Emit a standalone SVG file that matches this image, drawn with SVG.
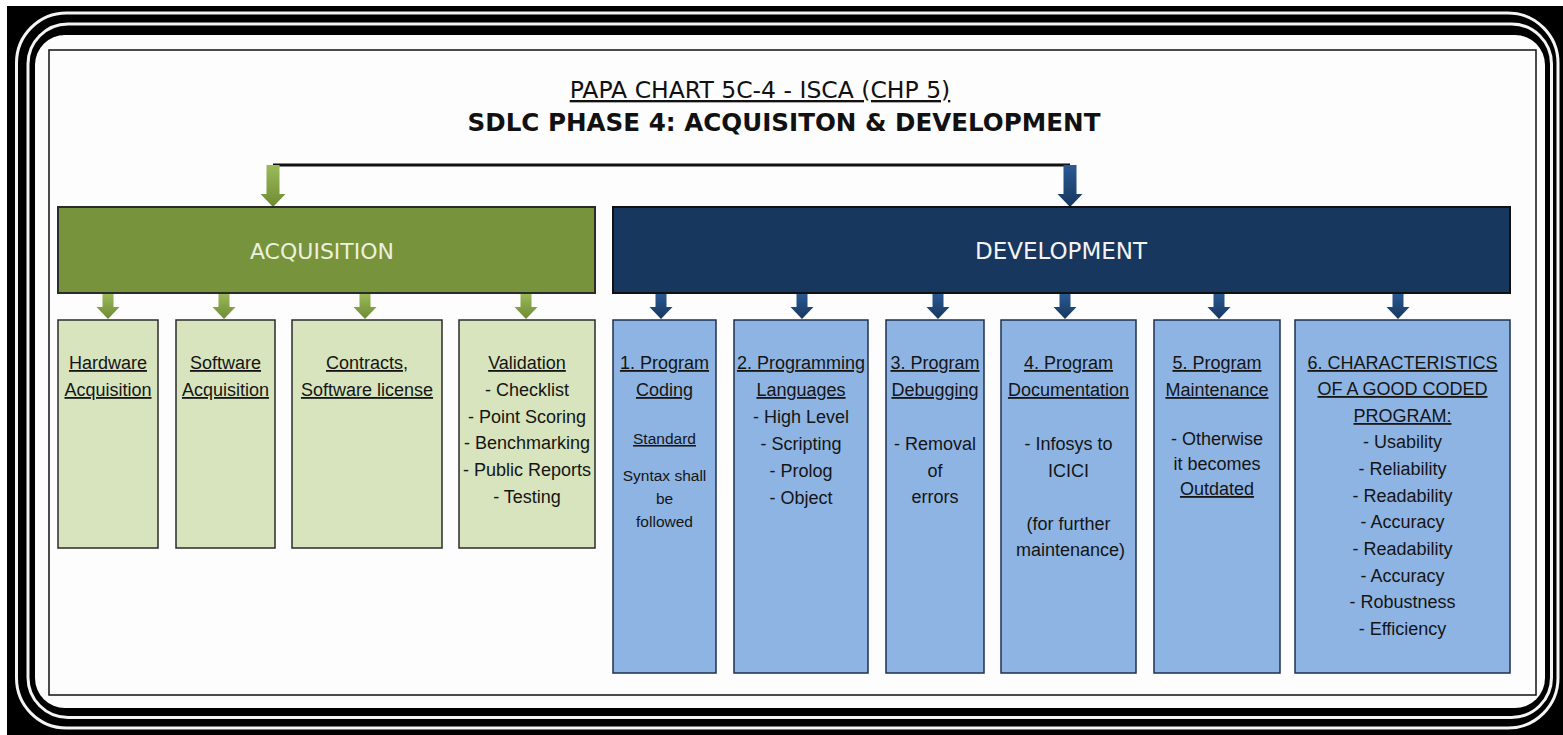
<svg xmlns="http://www.w3.org/2000/svg" xmlns:xlink="http://www.w3.org/1999/xlink" width="1563" height="735" viewBox="0 0 1563 735">
<style>
.t{font-family:"Liberation Sans",Arial,sans-serif;font-size:18px;fill:#151515;text-anchor:middle}
.u{text-decoration:underline}
.s{font-size:15.5px}
.h{font-family:"DejaVu Sans",sans-serif;text-anchor:middle;fill:#111}
.lg{fill:#D7E4BD;stroke:#2b2b2b;stroke-width:1.5}
.lb{fill:#8EB4E3;stroke:#1d3150;stroke-width:1.5}
</style>
<defs>
<linearGradient id="gg" x1="0" y1="0" x2="0" y2="1"><stop offset="0" stop-color="#9BBB59"/><stop offset="1" stop-color="#6E8B34"/></linearGradient>
<linearGradient id="bg" x1="0" y1="0" x2="0" y2="1"><stop offset="0" stop-color="#2A5A94"/><stop offset="1" stop-color="#17375E"/></linearGradient>
<path id="big" d="M-6.5,0 V29 H-12.5 L0,42 L12.5,29 H6.5 V0 Z"/>
<path id="sm" d="M-5.5,0 V14 H-11.5 L0,26 L11.5,14 H5.5 V0 Z"/>
</defs>
<rect width="1563" height="735" fill="#fff"/>
<g id="frame">
<rect x="7" y="6" width="1556" height="729" fill="#000"/>
<rect x="16.5" y="13" width="1541.5" height="715" rx="50" fill="none" stroke="#f4f4f4" stroke-width="3"/>
<rect x="28" y="24" width="1523.5" height="693.5" rx="40" fill="none" stroke="#f4f4f4" stroke-width="3"/>
<rect x="35" y="35" width="1510" height="673" rx="30" fill="#fdfdfd"/>
<rect x="49" y="50" width="1487" height="645" fill="none" stroke="#111" stroke-width="1.5"/>
</g>
<g id="title">
<text class="h u" x="760" y="98" font-size="23.5">PAPA CHART 5C-4 - ISCA (CHP 5)</text>
<text class="h" x="784" y="131" font-size="24.6" font-weight="bold">SDLC PHASE 4: ACQUISITON &amp; DEVELOPMENT</text>
</g>
<g id="connectors">
<path d="M273,165 H1070" stroke="#111" stroke-width="3" fill="none"/>
<use xlink:href="#big" x="273" y="165" fill="url(#gg)"/>
<use xlink:href="#big" x="1070" y="165" fill="url(#bg)"/>
<use xlink:href="#sm" x="108" y="293" fill="url(#gg)"/>
<use xlink:href="#sm" x="224" y="293" fill="url(#gg)"/>
<use xlink:href="#sm" x="365" y="293" fill="url(#gg)"/>
<use xlink:href="#sm" x="526" y="293" fill="url(#gg)"/>
<use xlink:href="#sm" x="661" y="293" fill="url(#bg)"/>
<use xlink:href="#sm" x="802" y="293" fill="url(#bg)"/>
<use xlink:href="#sm" x="938" y="293" fill="url(#bg)"/>
<use xlink:href="#sm" x="1065" y="293" fill="url(#bg)"/>
<use xlink:href="#sm" x="1219" y="293" fill="url(#bg)"/>
<use xlink:href="#sm" x="1398" y="293" fill="url(#bg)"/>
</g>
<g id="acquisition">
<rect x="58" y="207" width="537" height="86" fill="#77933C" stroke="#2b2b2b" stroke-width="2"/>
<text class="h" x="322" y="259" font-size="22" style="fill:#EBF1DE">ACQUISITION</text>
</g>
<g id="development">
<rect x="613" y="207" width="897" height="86" fill="#17375E" stroke="#111" stroke-width="2"/>
<text class="h" x="1061" y="259" font-size="23" style="fill:#F2F2F2">DEVELOPMENT</text>
</g>
<g id="hardware">
<rect class="lg" x="58" y="320" width="100" height="228"/>
<text class="t u" x="108" y="369">Hardware</text>
<text class="t u" x="108" y="396">Acquisition</text>
</g>
<g id="software">
<rect class="lg" x="176" y="320" width="99" height="228"/>
<text class="t u" x="225.5" y="369">Software</text>
<text class="t u" x="225.5" y="396">Acquisition</text>
</g>
<g id="contracts">
<rect class="lg" x="292" y="320" width="150" height="228"/>
<text class="t u" x="367" y="369">Contracts,</text>
<text class="t u" x="367" y="396">Software license</text>
</g>
<g id="validation">
<rect class="lg" x="459" y="320" width="136" height="228"/>
<text class="t u" x="527" y="369">Validation</text>
<text class="t" x="527" y="396">- Checklist</text>
<text class="t" x="527" y="423">- Point Scoring</text>
<text class="t" x="527" y="449">- Benchmarking</text>
<text class="t" x="527" y="476">- Public Reports</text>
<text class="t" x="527" y="503">- Testing</text>
</g>
<g id="coding">
<rect class="lb" x="613" y="320" width="103" height="353"/>
<text class="t u" x="664.5" y="369">1. Program</text>
<text class="t u" x="664.5" y="396">Coding</text>
<text class="t s u" x="664.5" y="444">Standard</text>
<text class="t s" x="664.5" y="481">Syntax shall</text>
<text class="t s" x="664.5" y="504">be</text>
<text class="t s" x="664.5" y="527">followed</text>
</g>
<g id="languages">
<rect class="lb" x="734" y="320" width="134" height="353"/>
<text class="t u" x="801" y="369">2. Programming</text>
<text class="t u" x="801" y="396">Languages</text>
<text class="t" x="801" y="423">- High Level</text>
<text class="t" x="801" y="450">- Scripting</text>
<text class="t" x="801" y="477">- Prolog</text>
<text class="t" x="801" y="504">- Object</text>
</g>
<g id="debugging">
<rect class="lb" x="886" y="320" width="98" height="353"/>
<text class="t u" x="935" y="369">3. Program</text>
<text class="t u" x="935" y="396">Debugging</text>
<text class="t" x="935" y="450">- Removal</text>
<text class="t" x="935" y="477">of</text>
<text class="t" x="935" y="503">errors</text>
</g>
<g id="documentation">
<rect class="lb" x="1001" y="320" width="135" height="353"/>
<text class="t u" x="1068.5" y="369">4. Program</text>
<text class="t u" x="1068.5" y="396">Documentation</text>
<text class="t" x="1068.5" y="450">- Infosys to</text>
<text class="t" x="1068.5" y="477">ICICI</text>
<text class="t" x="1068.5" y="530">(for further</text>
<text class="t" x="1070.5" y="556">maintenance)</text>
</g>
<g id="maintenance">
<rect class="lb" x="1154" y="320" width="126" height="353"/>
<text class="t u" x="1217" y="369">5. Program</text>
<text class="t u" x="1217" y="396">Maintenance</text>
<text class="t" x="1217" y="445">- Otherwise</text>
<text class="t" x="1217" y="470">it becomes</text>
<text class="t u" x="1217" y="495">Outdated</text>
</g>
<g id="characteristics">
<rect class="lb" x="1295" y="320" width="215" height="353"/>
<text class="t u" x="1402.5" y="369">6. CHARACTERISTICS</text>
<text class="t u" x="1402.5" y="395">OF A GOOD CODED</text>
<text class="t u" x="1402.5" y="422">PROGRAM:</text>
<text class="t" x="1402.5" y="448">- Usability</text>
<text class="t" x="1402.5" y="475">- Reliability</text>
<text class="t" x="1402.5" y="502">- Readability</text>
<text class="t" x="1402.5" y="528">- Accuracy</text>
<text class="t" x="1402.5" y="555">- Readability</text>
<text class="t" x="1402.5" y="582">- Accuracy</text>
<text class="t" x="1402.5" y="608">- Robustness</text>
<text class="t" x="1402.5" y="635">- Efficiency</text>
</g>
</svg>
